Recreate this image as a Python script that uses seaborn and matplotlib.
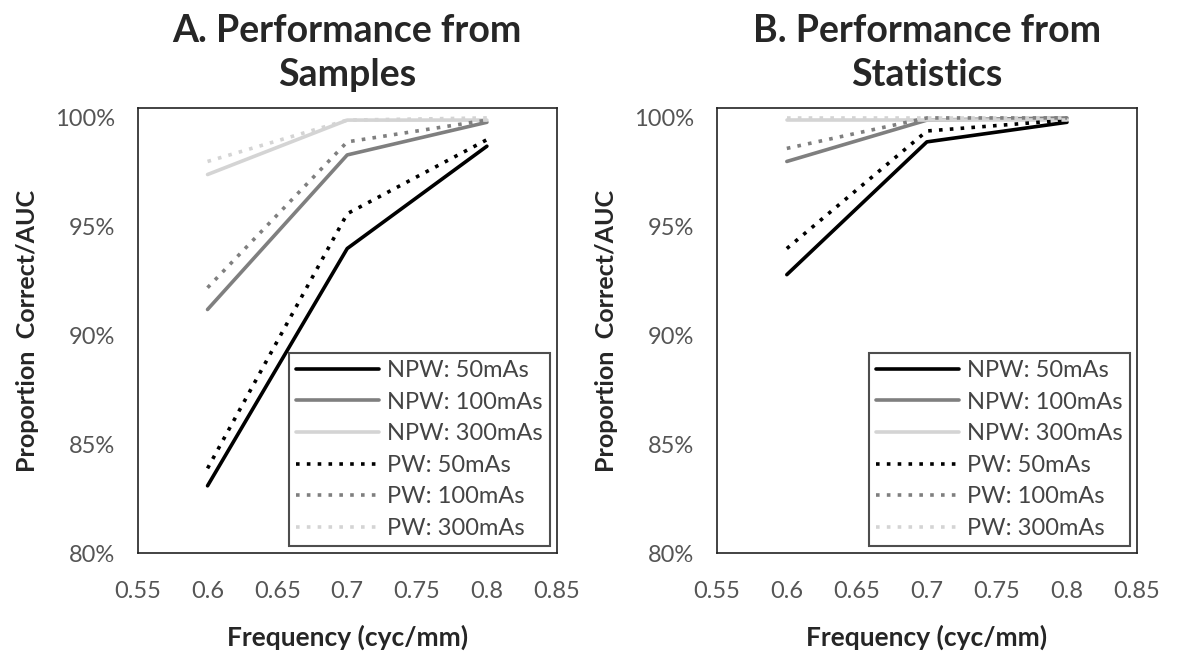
import pandas as pd
import numpy as np
import seaborn as sns
import matplotlib.pyplot as plt
from matplotlib.ticker import PercentFormatter

freq = [0.6, 0.7, 0.8]
series = ["NPW: 50mAs", "NPW: 100mAs", "NPW: 300mAs",
          "PW: 50mAs", "PW: 100mAs", "PW: 300mAs"]

# panel A - performance from samples
samples_npw50 = [0.831, 0.940, 0.987]
samples_npw100 = [0.912, 0.983, 0.998]
samples_npw300 = [0.974, 0.999, 0.999]
samples_pw50 = [0.839, 0.956, 0.990]
samples_pw100 = [0.922, 0.989, 0.999]
samples_pw300 = [0.980, 0.999, 1.000]

# panel B - performance from statistics
stats_npw50 = [0.928, 0.989, 0.998]
stats_npw100 = [0.980, 0.999, 1.000]
stats_npw300 = [0.999, 0.999, 0.999]
stats_pw50 = [0.940, 0.994, 0.999]
stats_pw100 = [0.986, 1.000, 1.000]
stats_pw300 = [1.000, 1.000, 1.000]

titles = ["A. Performance from\nSamples", "B. Performance from\nStatistics"]


def long_df(vals):
    rows = []
    for name, v in zip(series, vals):
        for f, y in zip(freq, v):
            rows.append({"freq": f, "value": y, "series": name})
    return pd.DataFrame(rows)


df_a = long_df([samples_npw50, samples_npw100, samples_npw300,
                samples_pw50, samples_pw100, samples_pw300])
df_b = long_df([stats_npw50, stats_npw100, stats_npw300,
                stats_pw50, stats_pw100, stats_pw300])

sns.set_style("white")
plt.rcParams['font.family'] = ['Lato', 'DejaVu Sans']

palette = {
    "NPW: 50mAs": "#000000", "NPW: 100mAs": "#7f7f7f", "NPW: 300mAs": "#d4d4d4",
    "PW: 50mAs": "#000000", "PW: 100mAs": "#7f7f7f", "PW: 300mAs": "#d4d4d4",
}
dashes = {
    "NPW: 50mAs": "", "NPW: 100mAs": "", "NPW: 300mAs": "",
    "PW: 50mAs": (1, 2), "PW: 100mAs": (1, 2), "PW: 300mAs": (1, 2),
}

fig = plt.figure(figsize=(11.77, 6.54), dpi=100)
ax1 = fig.add_axes([0.117, 0.154, 0.356, 0.681])
ax2 = fig.add_axes([0.609, 0.154, 0.357, 0.681])

for ax, df, title in zip([ax1, ax2], [df_a, df_b], titles):
    sns.lineplot(data=df, x="freq", y="value", hue="series", style="series",
                 palette=palette, dashes=dashes, hue_order=series,
                 style_order=series, linewidth=2.6, ax=ax)
    ax.set_xlim(0.55, 0.85)
    ax.set_ylim(0.80, 1.0046)
    ax.set_xticks([0.55, 0.6, 0.65, 0.7, 0.75, 0.8, 0.85])
    ax.set_xticklabels(["0.55", "0.6", "0.65", "0.7", "0.75", "0.8", "0.85"])
    ax.set_yticks([0.80, 0.85, 0.90, 0.95, 1.00])
    ax.yaxis.set_major_formatter(PercentFormatter(1.0, decimals=0))
    ax.tick_params(axis="both", direction="out", length=6, width=1.2,
                   labelsize=17, labelcolor="#555555", color="#222222", pad=10)
    ax.tick_params(axis="x", pad=14)
    for s in ax.spines.values():
        s.set_color("#222222")
        s.set_linewidth(1.2)
    ax.set_title(title, fontsize=27, fontweight="bold", pad=16, linespacing=1.35)
    ax.set_xlabel("Frequency (cyc/mm)", fontsize=19, fontweight="bold", labelpad=16)
    ax.set_ylabel("Proportion  Correct/AUC", fontsize=18, fontweight="bold", labelpad=12)
    leg = ax.legend(loc="lower right", fontsize=17, frameon=True, fancybox=False,
                    edgecolor="#222222", handlelength=3.5, borderpad=0.3,
                    labelspacing=0.45, borderaxespad=0.3, handletextpad=0.35)
    leg.get_frame().set_linewidth(1.5)
    for t in leg.get_texts():
        t.set_color("#444444")

fig.savefig("out.png", dpi=100, facecolor="white")
